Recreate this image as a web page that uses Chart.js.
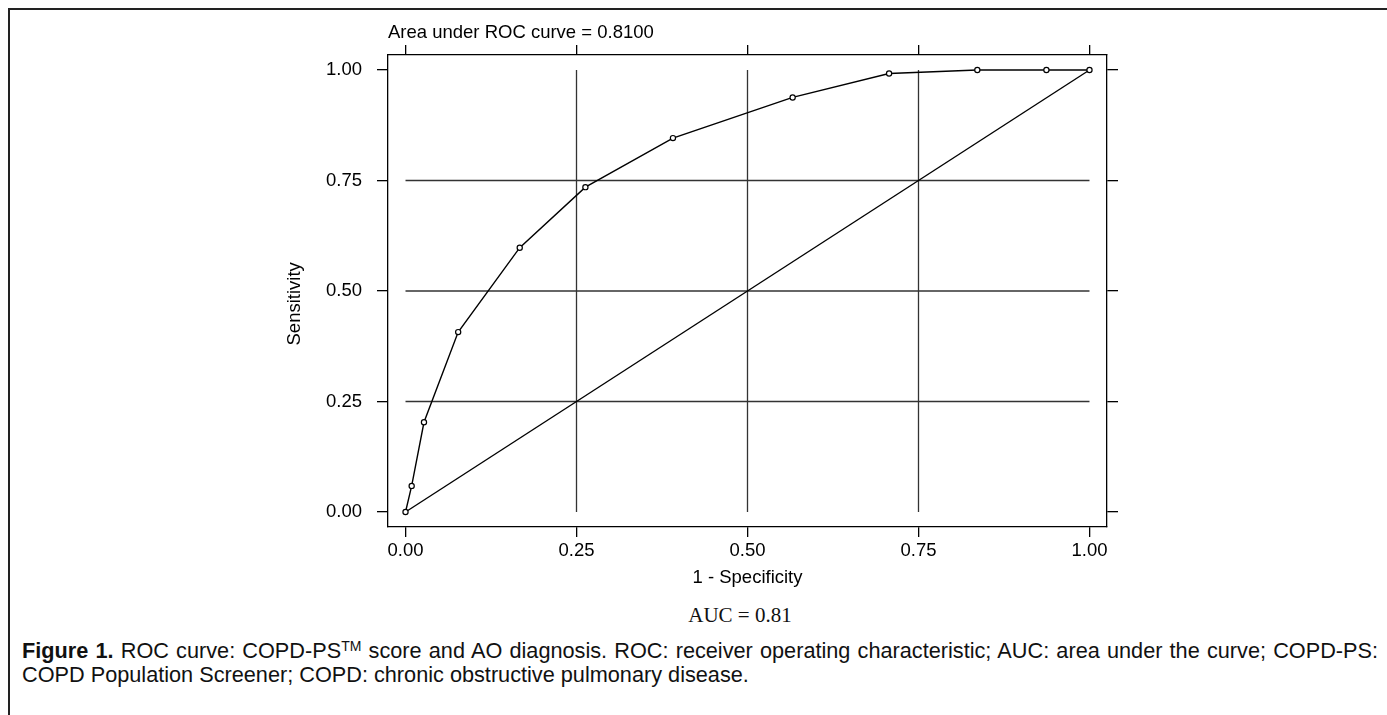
<!DOCTYPE html>
<html>
<head>
<meta charset="utf-8">
<title>ROC curve</title>
<script src="https://cdn.jsdelivr.net/npm/chart.js@4.4.1/dist/chart.umd.min.js"></script>
<style>
  html, body { margin: 0; padding: 0; background: #fff; }
  body { width: 1387px; height: 715px; position: relative; overflow: hidden;
         font-family: "Liberation Sans", Arial, sans-serif; color: #111; }
  #frame { position: absolute; left: 8px; top: 8px; right: -4px; bottom: -4px;
           border-top: 2px solid #222; border-left: 2px solid #222; }
  #chart { position: absolute; left: 0; top: 0; }
  #auc { position: absolute; left: 640px; width: 200px; top: 602px; text-align: center;
         font-family: "Liberation Serif", "Times New Roman", serif; font-size: 21px; line-height: 26px; }
  #caption { position: absolute; left: 22px; width: 1356px; top: 639px;
             font-size: 21.7px; line-height: 24px; }
  #caption .l1 { text-align: justify; text-align-last: justify; white-space: nowrap; }
  #caption sup { font-size: 14px; line-height: 0; vertical-align: 7px; }
</style>
</head>
<body>
<div id="frame"></div>
<canvas id="chart" width="1387" height="600"></canvas>
<div id="auc">AUC = 0.81</div>
<div id="caption">
  <div class="l1"><b>Figure 1.</b> ROC curve: COPD-PS<sup>TM</sup> score and AO diagnosis. ROC: receiver operating characteristic; AUC: area under the curve; COPD-PS:</div>
  <div>COPD Population Screener; COPD: chronic obstructive pulmonary disease.</div>
</div>
<script>
// ROC points (1 - specificity, sensitivity)
const fprValues = [0, 0.009, 0.027, 0.077, 0.167, 0.263, 0.391, 0.566, 0.707, 0.836, 0.937, 1];
const tprValues = [0, 0.059, 0.203, 0.407, 0.598, 0.735, 0.846, 0.938, 0.992, 1, 1, 1];
const refValues = [0, 1];
const tickValues = [0, 0.25, 0.5, 0.75, 1];
const gridValues = [0.25, 0.5, 0.75];
const aucNote = 'Area under ROC curve = 0.8100';

const font = { family: '"Liberation Sans", Arial, sans-serif', size: 18.5 };
const ink = '#000';

function fixedTicks(scale) {
    scale.ticks = tickValues.map(function(v) { return { value: v }; });
}
function fmt(v) { return Number(v).toFixed(2); }

// inner reference grid, drawn only between 0 and 1 like the original
const innerGrid = {
    id: 'innerGrid',
    beforeDatasetsDraw: function(chart) {
        const ctx = chart.ctx, x = chart.scales.x, y = chart.scales.y;
        ctx.save();
        ctx.strokeStyle = '#333';
        ctx.lineWidth = 1.3;
        gridValues.forEach(function(v) {
            const px = x.getPixelForValue(v), py = y.getPixelForValue(v);
            ctx.beginPath();
            ctx.moveTo(px, y.getPixelForValue(0));
            ctx.lineTo(px, y.getPixelForValue(1));
            ctx.stroke();
            ctx.beginPath();
            ctx.moveTo(x.getPixelForValue(0), py);
            ctx.lineTo(x.getPixelForValue(1), py);
            ctx.stroke();
        });
        ctx.restore();
    }
};

const gridOpts = { drawOnChartArea: false, color: ink, lineWidth: 1.3 };
const borderOpts = { color: ink, width: 1.3 };

Chart.defaults.color = ink;

new Chart(document.getElementById('chart'), {
    type: 'scatter',
    data: {
        datasets: [{
            label: 'ROC',
            data: fprValues.map(function(v, i) { return { x: v, y: tprValues[i] }; }),
            showLine: true,
            borderColor: ink,
            borderWidth: 1.4,
            pointRadius: 2.6,
            pointBorderWidth: 1.2,
            pointBackgroundColor: '#fff',
            pointBorderColor: ink
        }, {
            label: 'Reference',
            data: refValues.map(function(v) { return { x: v, y: v }; }),
            showLine: true,
            borderColor: ink,
            borderWidth: 1.4,
            pointRadius: 0
        }]
    },
    options: {
        responsive: false,
        animation: false,
        layout: { padding: { left: 280, top: 0, right: 0, bottom: 0 } },
        plugins: { legend: { display: false }, tooltip: { enabled: false } },
        scales: {
            x: {
                type: 'linear', position: 'bottom', min: -0.0256, max: 1.0256,
                afterBuildTicks: fixedTicks,
                afterFit: function(s) { s.height = 73; },
                ticks: { autoSkip: false, maxRotation: 0, padding: 3, font: font, callback: fmt },
                grid: Object.assign({ tickLength: 10 }, gridOpts),
                border: borderOpts,
                title: { display: true, text: '1 - Specificity', font: font, padding: { top: 0, bottom: 11 } }
            },
            x2: {
                type: 'linear', position: 'top', min: -0.0256, max: 1.0256,
                afterBuildTicks: fixedTicks,
                afterFit: function(s) { s.height = 55; },
                ticks: { display: false },
                grid: Object.assign({ tickLength: 10 }, gridOpts),
                border: borderOpts,
                title: { display: true, text: aucNote, align: 'start', font: font, padding: { top: 22, bottom: 0 } }
            },
            y: {
                type: 'linear', position: 'left', min: -0.034, max: 1.034,
                afterBuildTicks: fixedTicks,
                afterFit: function(s) { s.width = 108; },
                ticks: { autoSkip: false, padding: 15, font: font, callback: fmt },
                grid: Object.assign({ tickLength: 11 }, gridOpts),
                border: borderOpts,
                // trailing spaces nudge the rotated title a little lower, as in the original
                title: { display: true, text: 'Sensitivity\u00a0\u00a0\u00a0\u00a0\u00a0', font: font, padding: { top: 4, bottom: 0 } }
            },
            y2: {
                type: 'linear', position: 'right', min: -0.034, max: 1.034,
                afterBuildTicks: fixedTicks,
                afterFit: function(s) { s.width = 280; },
                ticks: { display: false },
                grid: Object.assign({ tickLength: 11 }, gridOpts),
                border: borderOpts
            }
        }
    },
    plugins: [innerGrid]
});
</script>
</body>
</html>
